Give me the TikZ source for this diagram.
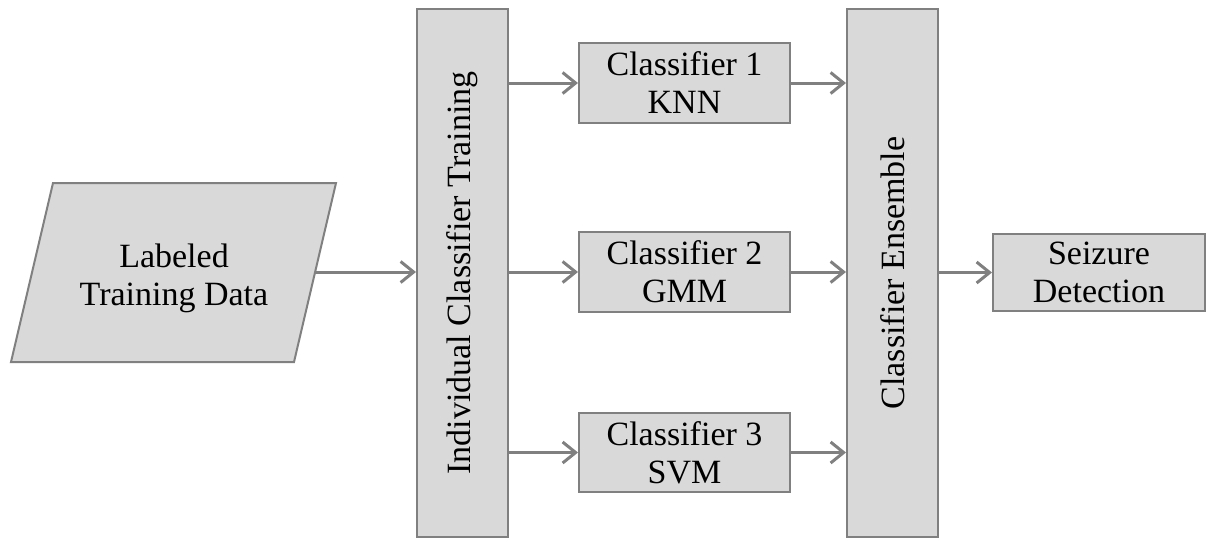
\documentclass[tikz,border=0pt]{standalone}
\usepackage{fontspec}
\setmainfont{Liberation Serif}
\usetikzlibrary{arrows.meta}
\definecolor{boxfill}{RGB}{217,217,217}
\definecolor{edgegray}{RGB}{128,128,128}
\begin{document}
\begin{tikzpicture}[x=1pt,y=-1pt,
  txt/.style={font=\fontsize{34}{38}\selectfont, align=center, text=black},
  box/.style={txt, draw=edgegray, fill=boxfill, line width=2pt, inner sep=0pt},
  conn/.style={draw=edgegray, line width=3pt, -{Straight Barb[length=13pt,width=21pt,line width=3pt]}}]
\useasboundingbox (0,0) rectangle (1206,539);
% input parallelogram
\draw[draw=edgegray, fill=boxfill, line width=2pt] (53,183) -- (336,183) -- (294,362) -- (11,362) -- cycle;
\node[txt] (data) at (174,278) {Labeled\\Training Data};
\coordinate (dataR) at (315,272);
% boxes
\node[box, minimum width=91pt, minimum height=528pt] (train) at (462.5,273) {};
\node[txt, rotate=90] (trainlbl) at (train.center) {Individual Classifier Training};
\node[box, minimum width=211pt, minimum height=80pt] (c1) at (684.5,83) {Classifier 1\\KNN};
\node[box, minimum width=211pt, minimum height=80pt] (c2) at (684.5,272) {Classifier 2\\GMM};
\node[box, minimum width=211pt, minimum height=79pt] (c3) at (684.5,452.5) {Classifier 3\\SVM};
\node[box, minimum width=91pt, minimum height=528pt] (ens) at (892.5,273) {};
\node[txt, rotate=90] (enslbl) at (ens.center) {Classifier Ensemble};
\node[box, minimum width=212pt, minimum height=77pt] (seiz) at (1099,272.5) {Seizure\\Detection};
% connectors
\draw[conn] (dataR) -- (train.west |- dataR);
\draw[conn] (train.east |- c1.west) -- (c1.west);
\draw[conn] (train.east |- c2.west) -- (c2.west);
\draw[conn] (train.east |- c3.west) -- (c3.west);
\draw[conn] (c1.east) -- (ens.west |- c1.east);
\draw[conn] (c2.east) -- (ens.west |- c2.east);
\draw[conn] (c3.east) -- (ens.west |- c3.east);
\draw[conn] (ens.east |- seiz.west) -- (seiz.west);
\end{tikzpicture}
\end{document}
